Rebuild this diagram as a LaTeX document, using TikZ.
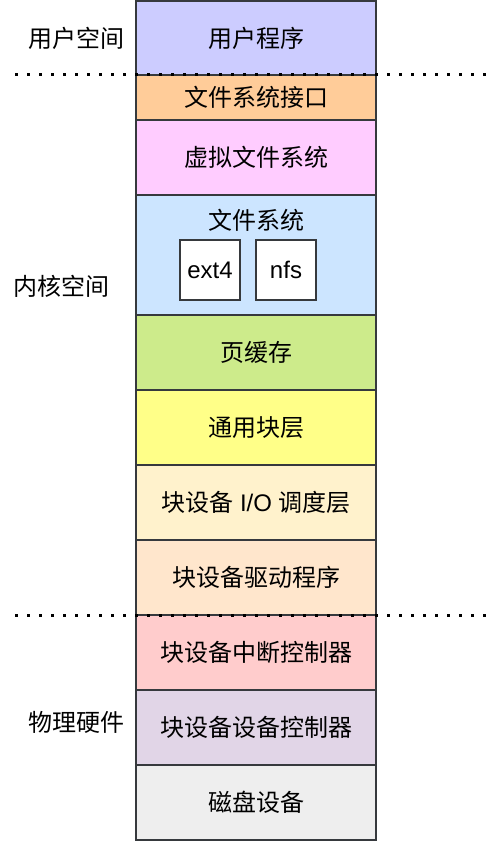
\documentclass[tikz,border=0pt]{standalone}
\usepackage{fontspec}
\setmainfont{Liberation Sans}
\newfontfamily\cjk{Noto Sans CJK SC}
\definecolor{edge}{HTML}{36393D}
\definecolor{cuser}{HTML}{CCCCFF}
\definecolor{cfsif}{HTML}{FFCC99}
\definecolor{cvfs}{HTML}{FFCCFF}
\definecolor{cfs}{HTML}{CCE5FF}
\definecolor{cpage}{HTML}{CDEB8B}
\definecolor{cblock}{HTML}{FFFF88}
\definecolor{csched}{HTML}{FFF2CC}
\definecolor{cdriver}{HTML}{FFE6CC}
\definecolor{cirq}{HTML}{FFCCCC}
\definecolor{cctrl}{HTML}{E1D5E7}
\definecolor{cdisk}{HTML}{EEEEEE}
\tikzset{
  layer/.style={draw=edge,line width=1.5pt},
  fsbox/.style={draw=edge,line width=1.5pt,fill=white,minimum size=60pt,inner sep=0pt},
  sepline/.style={line width=3pt,dash pattern=on 3pt off 9pt},
}
\begin{document}
\begin{tikzpicture}[x=1pt,y=1pt,font=\fontsize{24}{28}\selectfont]
\useasboundingbox (0,0) rectangle (500,-842);
\draw[layer,fill=cuser]
      (136,  -1  ) rectangle +(240,-74)
    ++(120, -37  ) node (user)   {\cjk 用户程序};
\draw[layer,fill=cfsif]
      (136, -75  ) rectangle +(240,-45)
    ++(120, -22.5) node (fsif)   {\cjk 文件系统接口};
\draw[layer,fill=cvfs]
      (136,-120  ) rectangle +(240,-75)
    ++(120, -37.5) node (vfs)    {\cjk 虚拟文件系统};
\draw[layer,fill=cfs]
      (136,-195  ) rectangle +(240,-120)
    ++(120, -25  ) node (fs)     {\cjk 文件系统};
\draw[layer,fill=cpage]
      (136,-315  ) rectangle +(240,-75)
    ++(120, -37.5) node (pcache) {\cjk 页缓存};
\draw[layer,fill=cblock]
      (136,-390  ) rectangle +(240,-75)
    ++(120, -37.5) node (block)  {\cjk 通用块层};
\draw[layer,fill=csched]
      (136,-465  ) rectangle +(240,-75)
    ++(120, -37.5) node (sched)  {{\cjk 块设备} I/O {\cjk 调度层}};
\draw[layer,fill=cdriver]
      (136,-540  ) rectangle +(240,-75)
    ++(120, -37.5) node (driver) {\cjk 块设备驱动程序};
\draw[layer,fill=cirq]
      (136,-615  ) rectangle +(240,-75)
    ++(120, -37.5) node (irq)    {\cjk 块设备中断控制器};
\draw[layer,fill=cctrl]
      (136,-690  ) rectangle +(240,-75)
    ++(120, -37.5) node (ctrl)   {\cjk 块设备设备控制器};
\draw[layer,fill=cdisk]
      (136,-765  ) rectangle +(240,-75)
    ++(120, -37.5) node (disk)   {\cjk 磁盘设备};

\node[fsbox] (ext4) at (210,-270) {ext4};
\node[fsbox] (nfs)  at (286,-270) {nfs};

\node (userspace) at ( 76, -38) {\cjk 用户空间};
\node (kernel)    at ( 61,-286) {\cjk 内核空间};
\node (hardware)  at ( 76,-722) {\cjk 物理硬件};

\draw[sepline] (15, -75) -- (490, -75);
\draw[sepline] (15,-615) -- (490,-615);
\end{tikzpicture}
\end{document}
